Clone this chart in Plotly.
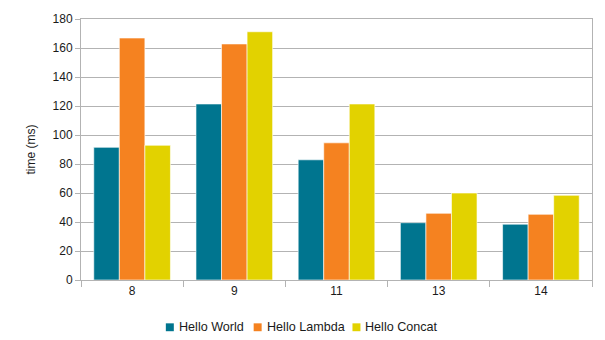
import plotly.graph_objects as go

categories = ["8", "9", "11", "13", "14"]
hello_world = [91.5, 121.4, 82.9, 39.5, 38.5]
hello_lambda = [166.9, 162.8, 94.6, 46.0, 45.3]
hello_concat = [92.9, 171.2, 121.4, 60.0, 58.4]

series = [
    ("Hello World", hello_world, "#00758f"),
    ("Hello Lambda", hello_lambda, "#f58220"),
    ("Hello Concat", hello_concat, "#e2d200"),
]

W, H = 605, 340
ML, MR, MT, MB = 81, 12, 15, 60
PW, PH = W - ML - MR, H - MT - MB

def px_to_paper_x(px):
    return (px - ML) / PW

def px_to_paper_y(py):
    return (H - MB - py) / PH

fig = go.Figure()
for name, vals, color in series:
    fig.add_trace(go.Bar(
        name=name, x=categories, y=vals, showlegend=False,
        marker=dict(color=color, line=dict(color="rgba(255,255,255,0.6)", width=1)),
    ))

# custom legend (small squares close to text, as in reference)
legend_pos = [166, 254, 353]  # left pixel of each square
shapes = []
annotations = []
for (name, _, color), lx in zip(series, legend_pos):
    shapes.append(dict(type="rect", xref="paper", yref="paper",
                       x0=px_to_paper_x(lx), x1=px_to_paper_x(lx + 8),
                       y0=px_to_paper_y(332), y1=px_to_paper_y(324),
                       fillcolor=color, line=dict(width=0)))
    annotations.append(dict(xref="paper", yref="paper", x=px_to_paper_x(lx + 11),
                            y=px_to_paper_y(328), xanchor="left", yanchor="middle",
                            text=name, showarrow=False,
                            font=dict(size=12.6, color="#1a1a1a")))

font = dict(family="Liberation Sans, Arial, sans-serif", size=12, color="#1a1a1a")
fig.update_layout(
    width=W, height=H,
    margin=dict(l=ML, r=MR, t=MT, b=MB),
    paper_bgcolor="white", plot_bgcolor="white",
    font=font,
    barmode="group", bargap=0.25, bargroupgap=0,
    showlegend=False,
    shapes=shapes, annotations=annotations,
    xaxis=dict(type="category", showline=True, linecolor="#b3b3b3", linewidth=1, mirror=True,
               ticks="outside", tickson="boundaries", ticklen=6, tickcolor="#b3b3b3",
               showgrid=False, tickfont=dict(size=12)),
    yaxis=dict(range=[0, 180], dtick=20, showline=True, linecolor="#b3b3b3", linewidth=1, mirror=True,
               ticks="outside", ticklen=5, tickcolor="#b3b3b3",
               showgrid=True, gridcolor="#b3b3b3", gridwidth=1, zeroline=False,
               title=dict(text="time (ms)", font=dict(size=12), standoff=14),
               tickfont=dict(size=12)),
)

fig.write_html("out.html")
